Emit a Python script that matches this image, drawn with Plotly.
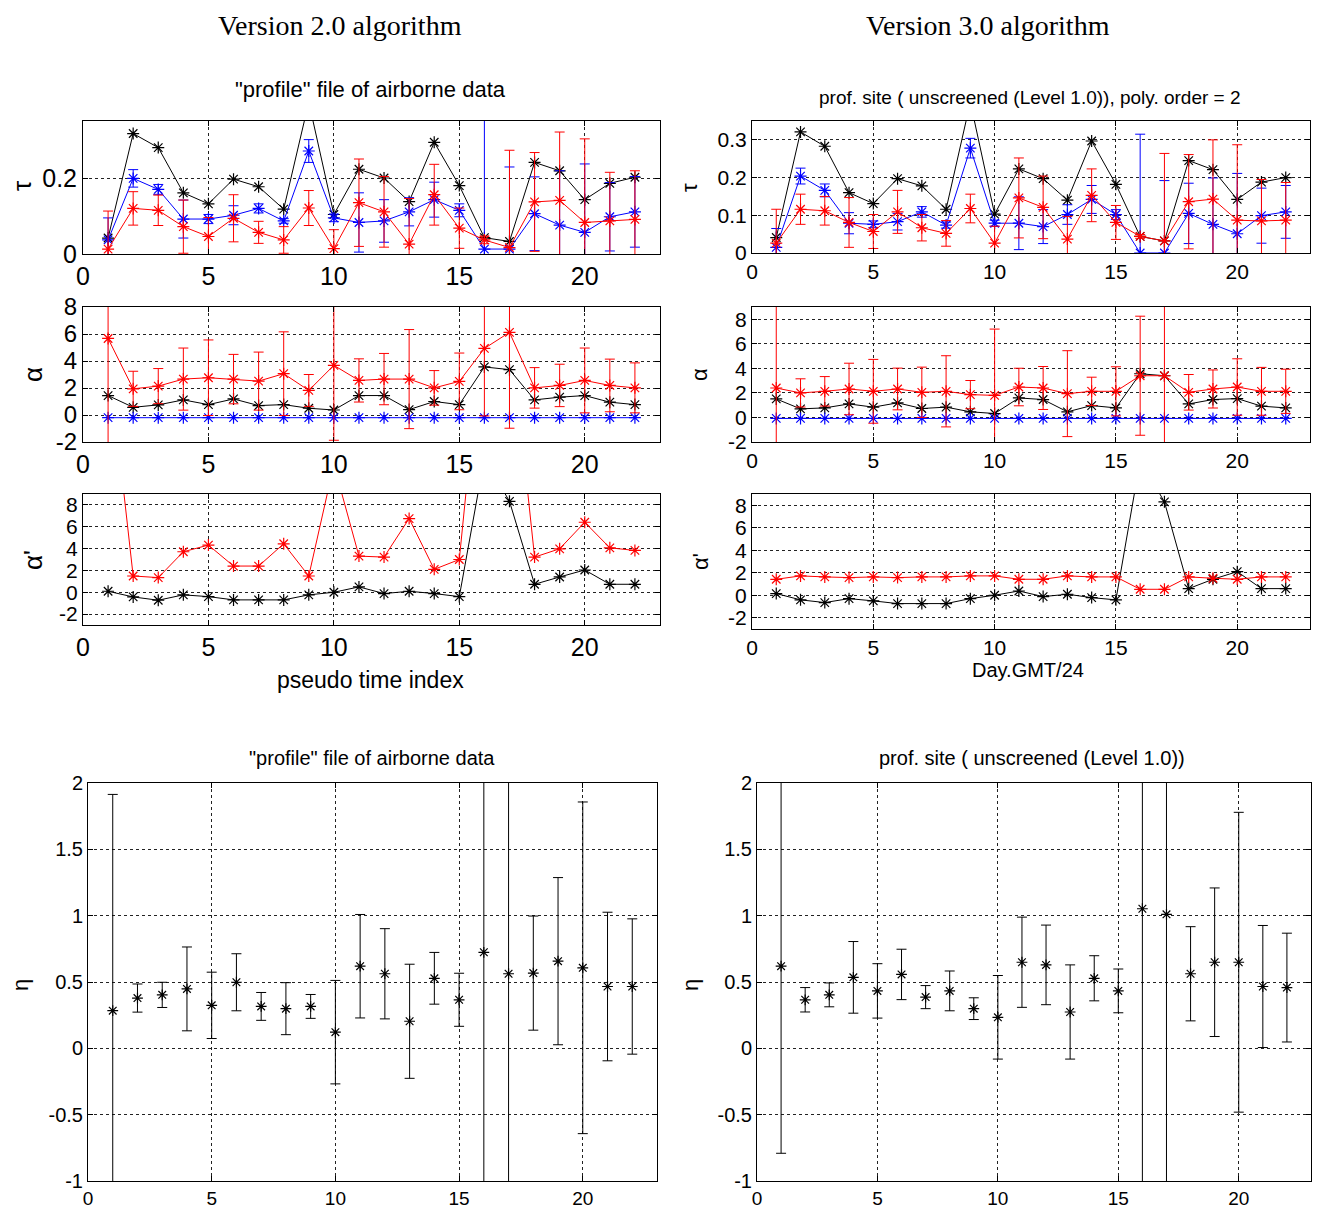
import plotly.graph_objects as go

# page body has an 8px margin: the figure is drawn at (8, 8) in the window
OFF = 8
W, H = 1320 - OFF, 1210 - OFF

# ---------------- data ----------------
t_index = [1, 2, 3, 4, 5, 6, 7, 8, 9, 10, 11, 12, 13, 14, 15, 16, 17, 18, 19, 20, 21, 22]

# Version 2.0 (left column)
tau_total_v2 = [0.042, 0.317, 0.28, 0.161, 0.132, 0.197, 0.177, 0.118, 0.40, 0.104, 0.223,
                0.2, 0.138, 0.294, 0.18, 0.043, 0.033, 0.241, 0.219, 0.143, 0.186, 0.202]
tau_fine_v2 = [0.037, 0.199, 0.17, 0.092, 0.092, 0.102, 0.12, 0.087, 0.271, 0.095, 0.083,
               0.087, 0.111, 0.143, 0.115, 0.013, 0.013, 0.106, 0.076, 0.057, 0.098, 0.111]
tau_fine_err_v2 = [0.058, 0.023, 0.013, 0.05, 0.012, 0.025, 0.012, 0.006, 0.03, 0.01, 0.078,
                   0.056, 0.037, 0.046, 0.017, 0.4, 0.216, 0.097, 0.143, 0.18, 0.09, 0.093]
tau_coarse_v2 = [0.013, 0.12, 0.115, 0.072, 0.046, 0.094, 0.057, 0.037, 0.121, 0.014, 0.135,
                 0.111, 0.026, 0.156, 0.068, 0.037, 0.017, 0.137, 0.141, 0.083, 0.087, 0.091]
tau_coarse_err_v2 = [0.1, 0.044, 0.04, 0.07, 0.05, 0.062, 0.029, 0.035, 0.046, 0.05, 0.115,
                     0.093, 0.12, 0.08, 0.053, 0.01, 0.256, 0.13, 0.18, 0.22, 0.128, 0.128]

alpha_red_v2 = [5.67, 1.94, 2.14, 2.66, 2.76, 2.66, 2.51, 3.06, 1.82, 3.68, 2.56,
                2.66, 2.66, 2.01, 2.49, 4.93, 6.12, 2.01, 2.19, 2.56, 2.19, 2.01]
alpha_red_err_v2 = [8.0, 1.3, 1.3, 2.3, 2.8, 1.83, 2.15, 3.1, 1.18, 5.55, 1.6,
                    1.9, 3.67, 1.28, 2.1, 5.0, 7.1, 1.5, 1.57, 2.4, 1.95, 1.85]
alpha_black_v2 = [1.44, 0.57, 0.75, 1.12, 0.77, 1.19, 0.7, 0.77, 0.5, 0.37, 1.44,
                  1.44, 0.4, 1.0, 0.77, 3.56, 3.36, 1.12, 1.32, 1.44, 0.95, 0.77]
alpha_blue_v2 = [-0.2, -0.2, -0.2, -0.2, -0.2, -0.2, -0.2, -0.2, -0.2, -0.2, -0.2,
                 -0.2, -0.2, -0.2, -0.2, -0.2, -0.2, -0.2, -0.2, -0.2, -0.2, -0.2]

alphap_red_v2 = [22.0, 1.49, 1.34, 3.71, 4.32, 2.4, 2.4, 4.44, 1.49, 11.7, 3.31,
                 3.22, 6.75, 2.1, 3.0, 26.0, 25.0, 3.22, 3.98, 6.41, 4.07, 3.83]
alphap_black_v2 = [0.09, -0.43, -0.73, -0.24, -0.4, -0.7, -0.7, -0.7, -0.24, 0.0, 0.49,
                   -0.12, 0.09, -0.12, -0.4, 12.3, 8.33, 0.73, 1.4, 2.04, 0.73, 0.73]

eta_v2 = [0.284, 0.379, 0.403, 0.448, 0.324, 0.498, 0.316, 0.299, 0.316, 0.122, 0.619,
          0.562, 0.204, 0.528, 0.366, 0.724, 0.562, 0.567, 0.657, 0.607, 0.466, 0.466]
eta_err_v2 = [1.63, 0.106, 0.095, 0.316, 0.25, 0.215, 0.105, 0.196, 0.09, 0.39, 0.39,
              0.34, 0.43, 0.195, 0.2, 2.5, 2.5, 0.43, 0.63, 1.25, 0.56, 0.51]

# Version 3.0 (right column)
tau_total_v3 = [0.041, 0.321, 0.283, 0.16, 0.131, 0.197, 0.178, 0.116, 0.40, 0.103, 0.223,
                0.197, 0.14, 0.297, 0.182, 0.044, 0.032, 0.245, 0.221, 0.142, 0.188, 0.2]
tau_fine_v3 = [0.015, 0.204, 0.166, 0.079, 0.076, 0.083, 0.109, 0.074, 0.278, 0.079, 0.079,
               0.07, 0.102, 0.142, 0.102, 0.0, 0.0, 0.105, 0.076, 0.051, 0.099, 0.109]
tau_fine_err_v3 = [0.05, 0.021, 0.017, 0.028, 0.009, 0.022, 0.014, 0.008, 0.026, 0.008, 0.07,
                   0.045, 0.026, 0.037, 0.013, 0.315, 0.192, 0.08, 0.123, 0.16, 0.073, 0.07]
tau_coarse_v3 = [0.026, 0.116, 0.112, 0.081, 0.057, 0.109, 0.067, 0.052, 0.118, 0.026, 0.146,
                 0.121, 0.037, 0.153, 0.081, 0.044, 0.032, 0.136, 0.143, 0.087, 0.085, 0.087]
tau_coarse_err_v3 = [0.09, 0.04, 0.038, 0.066, 0.045, 0.057, 0.035, 0.034, 0.038, 0.045, 0.106,
                     0.083, 0.06, 0.07, 0.045, 0.005, 0.232, 0.125, 0.157, 0.2, 0.11, 0.1]

alpha_red_v3 = [2.4, 2.0, 2.13, 2.32, 2.13, 2.32, 2.05, 2.13, 1.86, 1.8, 2.48,
                2.4, 1.94, 2.13, 2.13, 3.4, 3.4, 2.05, 2.32, 2.48, 2.13, 2.13]
alpha_red_err_v3 = [8.0, 1.15, 1.2, 2.1, 2.6, 1.7, 2.05, 2.9, 1.15, 5.4, 1.53,
                    1.75, 3.5, 1.15, 2.0, 4.85, 7.0, 1.45, 1.55, 2.3, 1.95, 1.8]
alpha_black_v3 = [1.51, 0.7, 0.78, 1.1, 0.84, 1.19, 0.73, 0.84, 0.46, 0.32, 1.59,
                  1.46, 0.46, 0.97, 0.78, 3.56, 3.4, 1.1, 1.46, 1.54, 0.92, 0.78]
alpha_blue_v3 = [-0.08, -0.08, -0.08, -0.08, -0.08, -0.08, -0.08, -0.08, -0.08, -0.08, -0.08,
                 -0.08, -0.08, -0.08, -0.08, -0.08, -0.08, -0.08, -0.08, -0.08, -0.08, -0.08]

alphap_red_v3 = [1.42, 1.72, 1.63, 1.57, 1.63, 1.57, 1.63, 1.63, 1.72, 1.72, 1.42,
                 1.42, 1.72, 1.63, 1.63, 0.53, 0.53, 1.63, 1.51, 1.42, 1.63, 1.63]
alphap_black_v3 = [0.15, -0.41, -0.65, -0.3, -0.5, -0.74, -0.74, -0.74, -0.3, 0.0, 0.38,
                   -0.12, 0.09, -0.21, -0.41, 12.0, 8.3, 0.59, 1.42, 2.1, 0.59, 0.59]

eta_v3 = [0.619, 0.366, 0.403, 0.535, 0.433, 0.557, 0.386, 0.433, 0.299, 0.234, 0.649,
          0.629, 0.274, 0.528, 0.433, 1.052, 1.01, 0.562, 0.649, 0.649, 0.466, 0.458]
eta_err_v3 = [1.41, 0.092, 0.09, 0.27, 0.205, 0.19, 0.087, 0.15, 0.082, 0.315, 0.34,
              0.3, 0.355, 0.17, 0.165, 3.0, 3.0, 0.355, 0.56, 1.13, 0.46, 0.41]

# tick labels
x_ticks = [0, 5, 10, 15, 20]
x_ticklabels = ["0", "5", "10", "15", "20"]
tau_ticks_v2 = [0, 0.2]
tau_ticklabels_v2 = ["0", "0.2"]
tau_ticks_v3 = [0, 0.1, 0.2, 0.3]
tau_ticklabels_v3 = ["0", "0.1", "0.2", "0.3"]
alpha_ticks = [-2, 0, 2, 4, 6, 8]
alpha_ticklabels = ["-2", "0", "2", "4", "6", "8"]
eta_ticks = [-1, -0.5, 0, 0.5, 1, 1.5, 2]
eta_ticklabels = ["-1", "-0.5", "0", "0.5", "1", "1.5", "2"]

BLACK, RED, BLUE = "#000000", "#ff0000", "#0000ff"
FONT = "Liberation Sans, Arial, sans-serif"
SERIF = "Liberation Serif, Times New Roman, serif"

fig = go.Figure()

# ---------------- axes layout ----------------
# panel boxes in window pixels: (left, right, top, bottom)
panels = {
    1: (83, 660, 121, 254),    # left tau
    2: (83, 660, 307, 442),    # left alpha
    3: (83, 660, 494, 625),    # left alpha'
    4: (752, 1310, 121, 253),  # right tau
    5: (752, 1310, 307, 442),  # right alpha
    6: (752, 1310, 494, 629),  # right alpha'
    7: (88, 657, 783, 1181),   # left eta
    8: (757, 1311, 783, 1181), # right eta
}
# (y range, tick values, tick labels, x tick font size, y tick font size)
yspec = {
    1: ([0, 0.35], tau_ticks_v2, tau_ticklabels_v2, 25, 25),
    2: ([-2, 8], alpha_ticks, alpha_ticklabels, 25, 24),
    3: ([-3, 9], alpha_ticks, alpha_ticklabels, 25, 21),
    4: ([0, 0.35], tau_ticks_v3, tau_ticklabels_v3, 21, 21),
    5: ([-2, 9], alpha_ticks, alpha_ticklabels, 21, 21),
    6: ([-3, 9], alpha_ticks, alpha_ticklabels, 21, 21),
    7: ([-1, 2], eta_ticks, eta_ticklabels, 19, 20),
    8: ([-1, 2], eta_ticks, eta_ticklabels, 19, 20),
}

common = dict(showline=True, linecolor="black", linewidth=1, mirror="ticks",
              ticks="inside", ticklen=5, tickcolor="black", showgrid=True,
              gridcolor="#222222", gridwidth=1, griddash="3px,3px", zeroline=False,
              fixedrange=True, automargin=False)


def fx(px):
    return (px - OFF) / W


def fy(py):
    return 1 - (py - OFF) / H


layout_axes = {}
for n, (l, r, t, b) in panels.items():
    yr, yt, ytl, fsx, fsy = yspec[n]
    xname = "xaxis" if n == 1 else f"xaxis{n}"
    yname = "yaxis" if n == 1 else f"yaxis{n}"
    layout_axes[xname] = dict(domain=[fx(l), fx(r)], range=[0, 23], anchor=f"y{n}" if n > 1 else "y",
                              tickvals=x_ticks, ticktext=x_ticklabels,
                              tickfont=dict(family=FONT, size=fsx, color="black"), **common)
    layout_axes[yname] = dict(domain=[fy(b), fy(t)], range=yr, anchor=f"x{n}" if n > 1 else "x",
                              tickvals=yt, ticktext=ytl,
                              tickfont=dict(family=FONT, size=fsy, color="black"), **common)


def ax(n):
    return ("x", "y") if n == 1 else (f"x{n}", f"y{n}")


def line_trace(n, y, color, err=None, msize=10):
    xa, ya = ax(n)
    tr = dict(x=t_index, y=y, mode="lines+markers", xaxis=xa, yaxis=ya,
              line=dict(color=color, width=1),
              marker=dict(symbol="asterisk-open", size=msize, color=color,
                          line=dict(color=color, width=1.2)),
              showlegend=False, hoverinfo="skip")
    if err is not None:
        tr["error_y"] = dict(type="data", array=err, visible=True, color=color,
                             thickness=1, width=5)
    fig.add_trace(go.Scatter(**tr))


# left column
line_trace(1, tau_total_v2, BLACK)
line_trace(1, tau_fine_v2, BLUE, tau_fine_err_v2)
line_trace(1, tau_coarse_v2, RED, tau_coarse_err_v2)
line_trace(2, alpha_black_v2, BLACK)
line_trace(2, alpha_blue_v2, BLUE)
line_trace(2, alpha_red_v2, RED, alpha_red_err_v2)
line_trace(3, alphap_black_v2, BLACK)
line_trace(3, alphap_red_v2, RED)

# right column
line_trace(4, tau_total_v3, BLACK)
line_trace(4, tau_fine_v3, BLUE, tau_fine_err_v3)
line_trace(4, tau_coarse_v3, RED, tau_coarse_err_v3)
line_trace(5, alpha_black_v3, BLACK)
line_trace(5, alpha_blue_v3, BLUE)
line_trace(5, alpha_red_v3, RED, alpha_red_err_v3)
line_trace(6, alphap_black_v3, BLACK)
line_trace(6, alphap_red_v3, RED)

# eta panels (markers + error bars only)
for n, yv, ev in ((7, eta_v2, eta_err_v2), (8, eta_v3, eta_err_v3)):
    xa, ya = ax(n)
    fig.add_trace(go.Scatter(
        x=t_index, y=yv, mode="markers", xaxis=xa, yaxis=ya,
        marker=dict(symbol="asterisk-open", size=9, color=BLACK, line=dict(color=BLACK, width=1.2)),
        error_y=dict(type="data", array=ev, visible=True, color=BLACK, thickness=1, width=5),
        showlegend=False, hoverinfo="skip"))


# ---------------- annotations ----------------
def ann(text, px, py, size, family=FONT, angle=0, yanchor="middle"):
    return dict(text=text, x=fx(px), y=fy(py), xref="paper", yref="paper",
                xanchor="center", yanchor=yanchor, showarrow=False, textangle=angle,
                font=dict(family=family, size=size, color="black"))


annotations = [
    ann("Version 2.0 algorithm", 340, 8, 28, SERIF, yanchor="top"),
    ann("Version 3.0 algorithm", 988, 8, 28, SERIF, yanchor="top"),
    ann("\"profile\" file of airborne data", 370, 90, 22),
    ann("prof. site ( unscreened (Level 1.0)), poly. order = 2", 1030, 97, 19),
    ann("pseudo time index", 370, 680, 23),
    ann("Day.GMT/24", 1028, 670, 20),
    ann("\"profile\" file of airborne data", 372, 758, 20),
    ann("prof. site ( unscreened (Level 1.0))", 1032, 758, 20),
    ann("τ", 22, 186, 26, angle=-90),
    ann("α", 33, 375, 26, angle=-90),
    ann("α'", 33, 560, 26, angle=-90),
    ann("τ", 690, 188, 22, angle=-90),
    ann("α", 700, 375, 22, angle=-90),
    ann("α'", 700, 562, 22, angle=-90),
    ann("η", 20, 985, 22, angle=-90),
    ann("η", 690, 985, 22, angle=-90),
]

fig.update_layout(
    width=W, height=H, autosize=False,
    margin=dict(l=0, r=0, t=0, b=0, pad=0),
    paper_bgcolor="white", plot_bgcolor="white",
    annotations=annotations,
    **layout_axes,
)

fig.write_html("out.html")
